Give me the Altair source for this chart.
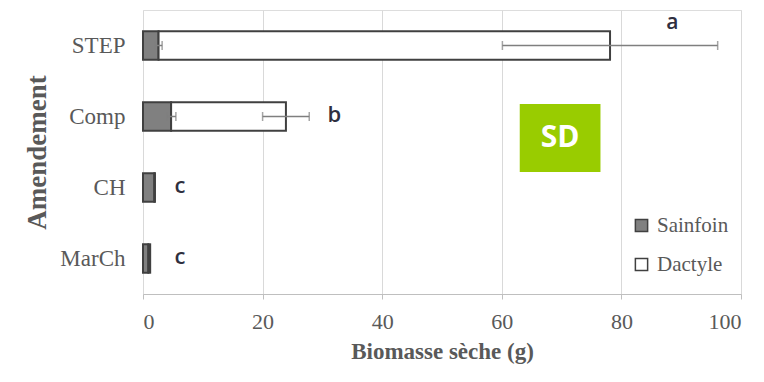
import altair as alt
import pandas as pd

categories = ["STEP", "Comp", "CH", "MarCh"]
sainfoin = [2.6, 4.7, 1.9, 0.9]
dactyle = [75.5, 19.2, 0.1, 0.3]
sainfoin_err = [0.6, 0.8, 0.0, 0.0]
dactyle_err = [18.0, 3.9, 0.0, 0.0]
letters = ["a", "b", "c", "c"]
letter_x = [88.5, 32.0, 6.2, 6.2]
series = ["Sainfoin", "Dactyle"]
x_ticks = [0, 20, 40, 60, 80, 100]
sd_x = [63.0, 76.5]

rows = []
for c, s, d in zip(categories, sainfoin, dactyle):
    rows.append({"cat": c, "serie": "Sainfoin", "start": 0.0, "end": s})
    rows.append({"cat": c, "serie": "Dactyle", "start": s, "end": s + d})
bars_df = pd.DataFrame(rows)

err_rows = []
for c, s, d, se, de in zip(categories, sainfoin, dactyle, sainfoin_err, dactyle_err):
    if se > 0:
        err_rows.append({"cat": c, "lo": s - se, "hi": s + se})
    if de > 0:
        err_rows.append({"cat": c, "lo": s + d - de, "hi": s + d + de})
err_df = pd.DataFrame(err_rows)
cap_df = pd.concat([
    err_df[["cat", "lo"]].rename(columns={"lo": "v"}),
    err_df[["cat", "hi"]].rename(columns={"hi": "v"}),
])

let_df = pd.DataFrame({"cat": categories, "txt": letters, "x": letter_x})
sd_df = pd.DataFrame({"x": [sd_x[0]], "x2": [sd_x[1]], "xm": [(sd_x[0] + sd_x[1]) / 2], "t": ["SD"]})

xscale = alt.Scale(domain=[0, 100], nice=False, zero=True)
yscale = alt.Scale(domain=categories, paddingInner=0.6, paddingOuter=0.3)

y_enc = alt.Y("cat:N", scale=yscale, sort=categories, title="Amendement",
              axis=alt.Axis(domain=False, ticks=False, grid=False, labelPadding=18,
                            labelFont="Liberation Serif", labelFontSize=23, labelColor="#595959",
                            titleFont="Liberation Serif", titleFontSize=27, titleFontWeight="bold",
                            titleColor="#595959", titlePadding=8))

bars = alt.Chart(bars_df).mark_bar(stroke="#404040", strokeWidth=2).encode(
    x=alt.X("start:Q", scale=xscale, title="Biomasse sèche (g)",
            axis=alt.Axis(values=x_ticks, grid=True, gridColor="#d9d9d9", domainColor="#bfbfbf",
                          tickColor="#bfbfbf", tickSize=5, labelPadding=12,
                          labelFont="Liberation Serif", labelFontSize=22, labelColor="#595959",
                          titleFont="Liberation Serif", titleFontSize=23, titleFontWeight="bold",
                          titleColor="#595959", titlePadding=8)),
    x2="end:Q",
    y=y_enc,
    fill=alt.Fill("serie:N", scale=alt.Scale(domain=series, range=["#808080", "#ffffff"]),
                  legend=alt.Legend(title=None, orient="none", legendX=488, legendY=205,
                                    symbolType="square", symbolSize=150,
                                    symbolStrokeColor="#404040", symbolStrokeWidth=1.5,
                                    labelFont="Liberation Serif", labelFontSize=21,
                                    labelColor="#595959", rowPadding=17, labelOffset=5)),
    order=alt.Order("start:Q"),
)

rules = alt.Chart(err_df).mark_rule(color="#7f7f7f", strokeWidth=1.5).encode(
    x=alt.X("lo:Q", scale=xscale), x2="hi:Q", y=alt.Y("cat:N", scale=yscale, sort=categories))

caps = alt.Chart(cap_df).mark_tick(color="#7f7f7f", thickness=1.5, size=9, orient="vertical").encode(
    x=alt.X("v:Q", scale=xscale), y=alt.Y("cat:N", scale=yscale, sort=categories))

txt_a = alt.Chart(let_df).transform_filter(alt.datum.txt == "a").mark_text(
    font="Open Sans", fontSize=21, fontWeight=600, color="#2f2f3f", dy=-23).encode(
    x=alt.X("x:Q", scale=xscale), y=alt.Y("cat:N", scale=yscale, sort=categories), text="txt:N")

txt_o = alt.Chart(let_df).transform_filter(alt.datum.txt != "a").mark_text(
    font="Open Sans", fontSize=22, fontWeight=600, color="#2f2f3f", dy=-2).encode(
    x=alt.X("x:Q", scale=xscale), y=alt.Y("cat:N", scale=yscale, sort=categories), text="txt:N")

sd_rect = alt.Chart(sd_df).mark_rect(color="#99cc00").encode(
    x=alt.X("x:Q", scale=xscale), x2="x2:Q", y=alt.value(94), y2=alt.value(162))

sd_txt = alt.Chart(sd_df).mark_text(font="Open Sans", fontSize=30, fontWeight="bold",
                                    color="white").encode(
    x=alt.X("xm:Q", scale=xscale), y=alt.value(128), text="t:N")

chart = alt.layer(bars, rules, caps, txt_a, txt_o, sd_rect, sd_txt).properties(
    width=598, height=284,
    autosize=alt.AutoSizeParams(type="none"),
    padding={"left": 135, "top": 2, "right": 10, "bottom": 74},
).configure_view(stroke=None).configure(background="white")

chart.save("out.html", embed_options={"renderer": "svg", "actions": False})
